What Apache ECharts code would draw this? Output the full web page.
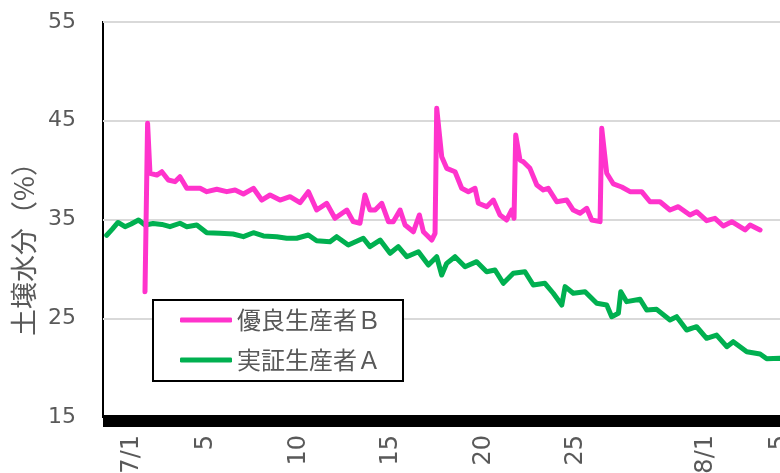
<!DOCTYPE html>
<html>
<head>
<meta charset="utf-8">
<script src="https://cdn.jsdelivr.net/npm/echarts@6/dist/echarts.min.js"></script>
<style>
  html, body { margin: 0; padding: 0; background: #fff; overflow: hidden; }
  #chart { width: 800px; height: 473px; }
</style>
</head>
<body>
<div id="chart"></div>
<script>
// Soil moisture readings; day values count July days (7/1 00:00 = 1, 8/1 = 32)
const seriesNames = ['優良生産者Ｂ', '実証生産者Ａ'];

const dayA = [-0.37, -0.08, 0.24, 0.62, 0.95, 1.35, 1.70, 2.14, 2.61, 3.05, 3.59, 3.96, 4.50, 5.04, 5.76, 6.46, 7.02, 7.56, 8.10, 8.82, 9.36, 9.90, 10.53, 10.98, 11.70, 12.06, 12.69, 13.50, 13.86, 14.41, 14.95, 15.39, 15.85, 16.48, 17.02, 17.47, 17.74, 18.01, 18.46, 19.00, 19.63, 20.17, 20.62, 21.07, 21.61, 22.24, 22.69, 23.32, 23.77, 24.23, 24.41, 24.85, 25.49, 26.12, 26.66, 26.93, 27.29, 27.42, 27.74, 28.46, 28.82, 29.36, 30.08, 30.44, 30.98, 31.52, 32.06, 32.60, 33.15, 33.50, 34.23, 34.95, 35.31, 36.03, 37.00];
const valA = [33.4, 34.0, 34.7, 34.27, 34.55, 34.95, 34.44, 34.6, 34.5, 34.27, 34.62, 34.27, 34.44, 33.66, 33.6, 33.53, 33.26, 33.66, 33.33, 33.26, 33.1, 33.1, 33.43, 32.85, 32.75, 33.26, 32.42, 33.1, 32.25, 32.92, 31.58, 32.25, 31.23, 31.74, 30.39, 31.23, 29.38, 30.56, 31.23, 30.22, 30.73, 29.71, 29.89, 28.54, 29.55, 29.71, 28.37, 28.54, 27.53, 26.34, 28.2, 27.53, 27.69, 26.51, 26.34, 25.16, 25.5, 27.69, 26.68, 26.92, 25.84, 25.9, 24.82, 25.16, 23.81, 24.14, 22.97, 23.3, 22.12, 22.63, 21.61, 21.38, 20.9, 20.94, 20.8];

const dayB = [1.70, 1.84, 1.97, 2.34, 2.61, 2.96, 3.32, 3.59, 3.96, 4.68, 5.04, 5.58, 6.12, 6.57, 7.02, 7.56, 8.01, 8.46, 9.00, 9.54, 10.08, 10.53, 10.98, 11.52, 11.97, 12.61, 12.96, 13.32, 13.59, 13.86, 14.14, 14.50, 14.86, 15.12, 15.49, 15.76, 16.21, 16.53, 16.75, 17.20, 17.38, 17.47, 17.74, 18.01, 18.46, 18.82, 19.18, 19.54, 19.72, 20.17, 20.53, 20.89, 21.25, 21.52, 21.65, 21.74, 21.97, 22.15, 22.51, 22.88, 23.23, 23.50, 23.96, 24.50, 24.85, 25.22, 25.58, 25.85, 26.30, 26.39, 26.66, 27.02, 27.47, 27.92, 28.55, 29.00, 29.54, 30.08, 30.53, 31.16, 31.52, 32.06, 32.51, 32.96, 33.42, 34.14, 34.41, 34.95];
const valB = [27.69, 44.74, 39.68, 39.5, 39.84, 39.0, 38.83, 39.33, 38.16, 38.16, 37.82, 38.06, 37.82, 37.99, 37.58, 38.16, 36.97, 37.48, 36.97, 37.31, 36.7, 37.82, 35.96, 36.64, 35.12, 35.96, 34.78, 34.62, 37.48, 35.96, 35.96, 36.64, 34.78, 34.78, 35.96, 34.44, 33.76, 35.46, 33.76, 32.92, 33.6, 46.26, 41.36, 40.18, 39.84, 38.16, 37.82, 38.16, 36.64, 36.3, 36.97, 35.46, 34.95, 35.96, 35.12, 43.56, 41.03, 40.85, 40.18, 38.49, 37.99, 38.16, 36.8, 36.97, 35.96, 35.63, 36.13, 34.95, 34.78, 44.24, 39.68, 38.6, 38.29, 37.82, 37.82, 36.8, 36.8, 35.96, 36.3, 35.46, 35.79, 34.88, 35.12, 34.34, 34.78, 33.94, 34.44, 33.94];

// Date ticks shown along the bottom (July day numbers)
const tickDays = [1, 5, 10, 15, 20, 25, 32, 36];
const tickText = ['7/1', '5', '10', '15', '20', '25', '8/1', '5'];

const yTicks = { min: 15, max: 55, step: 10 };

const pairs = (xs, ys) => xs.map((x, i) => [x, ys[i]]);

const latin = "'DejaVu Sans', 'Noto Sans CJK JP', sans-serif";
const cjk = "'Noto Sans CJK JP', 'DejaVu Sans', sans-serif";
const grey = '#595959';

const chart = echarts.init(document.getElementById('chart'), null, { renderer: 'canvas' });

chart.setOption({
  animation: false,
  backgroundColor: '#ffffff',
  grid: {
    left: 103, top: 22, right: 2, bottom: 56,
    outerBoundsMode: 'none',
    show: true, borderColor: '#000', borderWidth: 2, backgroundColor: 'transparent'
  },
  legend: {
    orient: 'vertical',
    left: 153, top: 300,
    data: seriesNames,
    icon: 'roundRect',
    itemWidth: 52, itemHeight: 5,
    itemGap: 14,
    padding: [7, 22, 8, 27],
    backgroundColor: '#fff',
    borderColor: '#000', borderWidth: 2, borderRadius: 0,
    textStyle: { fontFamily: cjk, fontSize: 24, color: grey, lineHeight: 26 }
  },
  xAxis: {
    type: 'value',
    min: -0.57, max: 37,
    offset: 4,
    axisLine: { show: true, onZero: false, lineStyle: { color: '#000', width: 12, cap: 'butt' } },
    axisTick: { show: false },
    splitLine: { show: false },
    axisLabel: {
      customValues: tickDays,
      rotate: 90,
      margin: 14,
      fontFamily: latin, fontSize: 24, color: grey,
      formatter: v => tickText[tickDays.indexOf(Math.round(v))] ?? ''
    }
  },
  yAxis: {
    type: 'value',
    min: yTicks.min, max: yTicks.max, interval: yTicks.step,
    name: '土壌水分（%）',
    nameLocation: 'middle',
    nameGap: 47,
    nameTextStyle: { fontFamily: cjk, fontSize: 27, color: grey, padding: [0, 46, 0, 0] },
    axisLine: { show: false },
    axisTick: { show: false },
    splitLine: { show: true, lineStyle: { color: '#d9d9d9', width: 2 } },
    axisLabel: { margin: 27, fontFamily: latin, fontSize: 22, color: grey }
  },
  series: [
    {
      name: seriesNames[1],
      type: 'line',
      data: pairs(dayA, valA),
      symbol: 'none',
      color: '#00b050',
      lineStyle: { color: '#00b050', width: 5, cap: 'round', join: 'round' },
      z: 2
    },
    {
      name: seriesNames[0],
      type: 'line',
      data: pairs(dayB, valB),
      symbol: 'none',
      color: '#ff33cc',
      lineStyle: { color: '#ff33cc', width: 5, cap: 'round', join: 'round' },
      z: 3
    }
  ]
});
</script>
</body>
</html>
